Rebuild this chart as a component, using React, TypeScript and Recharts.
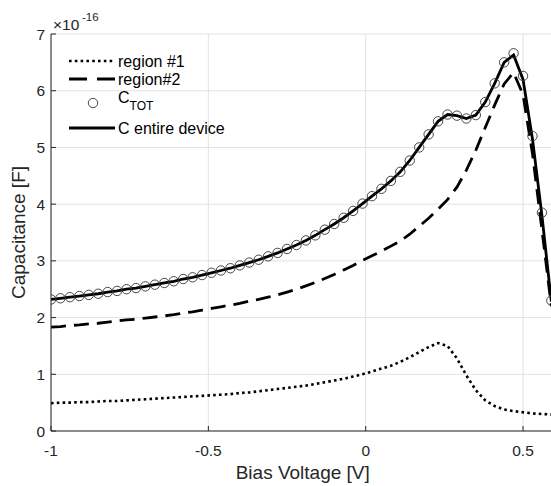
import React from 'react';
import { ComposedChart, Line, XAxis, YAxis, CartesianGrid, Legend } from 'recharts';

const voltage = [
  -1, -0.97, -0.94, -0.91, -0.88, -0.85, -0.82, -0.79, -0.76, -0.73,
  -0.7, -0.67, -0.64, -0.61, -0.58, -0.55, -0.52, -0.49, -0.46, -0.43,
  -0.4, -0.37, -0.34, -0.31, -0.28, -0.25, -0.22, -0.19, -0.16, -0.13,
  -0.1, -0.07, -0.04, -0.01, 0.02, 0.05, 0.08, 0.11, 0.14, 0.17,
  0.2, 0.23, 0.26, 0.29, 0.32, 0.35, 0.38, 0.41, 0.44, 0.47,
  0.5, 0.53, 0.56, 0.59,
];

const cTot = [
  2.32, 2.34, 2.36, 2.38, 2.40, 2.42, 2.45, 2.47, 2.50, 2.52,
  2.55, 2.58, 2.61, 2.64, 2.68, 2.71, 2.75, 2.79, 2.83, 2.87,
  2.92, 2.97, 3.02, 3.08, 3.14, 3.21, 3.28, 3.36, 3.45, 3.55,
  3.65, 3.76, 3.88, 4.01, 4.14, 4.27, 4.41, 4.57, 4.77, 5.00,
  5.23, 5.46, 5.58, 5.56, 5.51, 5.57, 5.80, 6.13, 6.50, 6.66,
  6.26, 5.20, 3.85, 2.30,
];

const cDevice = [
  2.32, 2.34, 2.36, 2.38, 2.40, 2.42, 2.45, 2.47, 2.50, 2.52,
  2.55, 2.58, 2.61, 2.64, 2.68, 2.71, 2.75, 2.79, 2.83, 2.87,
  2.92, 2.97, 3.02, 3.08, 3.14, 3.21, 3.28, 3.36, 3.45, 3.55,
  3.65, 3.76, 3.88, 4.01, 4.14, 4.27, 4.41, 4.57, 4.77, 5.00,
  5.23, 5.46, 5.58, 5.56, 5.51, 5.57, 5.80, 6.13, 6.50, 6.63,
  6.20, 5.15, 3.80, 2.28,
];

const region1 = [
  0.49, 0.50, 0.50, 0.51, 0.51, 0.52, 0.53, 0.53, 0.54, 0.55,
  0.56, 0.57, 0.58, 0.59, 0.60, 0.61, 0.62, 0.63, 0.64, 0.65,
  0.67, 0.68, 0.70, 0.72, 0.74, 0.76, 0.78, 0.80, 0.83, 0.86,
  0.89, 0.92, 0.96, 1.00, 1.05, 1.10, 1.15, 1.22, 1.30, 1.39,
  1.48, 1.55, 1.50, 1.28, 0.98, 0.72, 0.54, 0.44, 0.38, 0.35,
  0.33, 0.31, 0.30, 0.29,
];

const region2 = [
  1.83, 1.84, 1.86, 1.87, 1.89, 1.90, 1.92, 1.94, 1.96, 1.97,
  1.99, 2.01, 2.03, 2.05, 2.08, 2.10, 2.13, 2.16, 2.19, 2.22,
  2.25, 2.29, 2.32, 2.36, 2.40, 2.45, 2.50, 2.56, 2.62, 2.69,
  2.76, 2.84, 2.92, 3.01, 3.09, 3.17, 3.26, 3.35, 3.47, 3.61,
  3.75, 3.91, 4.08, 4.30, 4.60, 4.95, 5.35, 5.75, 6.12, 6.32,
  5.93, 4.89, 3.55, 2.20,
];

const xTicks = [-1, -0.5, 0, 0.5];
const yTicks = [0, 1, 2, 3, 4, 5, 6, 7];

const data = voltage.map((v, i) => ({
  v,
  ctot: cTot[i],
  dev: cDevice[i],
  r1: region1[i],
  r2: region2[i],
}));

const FONT = '"Liberation Sans", Arial, Helvetica, sans-serif';
const AXIS = '#262626';
const TICK_FS = 15.5;

function BottomTick(props: any) {
  const { x, y, payload } = props;
  return (
    <g>
      <line x1={x} x2={x} y1={y} y2={y - 5} stroke={AXIS} strokeWidth={1} />
      <text x={x} y={y + 25} textAnchor="middle" fontSize={TICK_FS} fill={AXIS} fontFamily={FONT}>
        {String(payload.value)}
      </text>
    </g>
  );
}

function TopTick(props: any) {
  const { x, y } = props;
  return <line x1={x} x2={x} y1={y} y2={y + 5} stroke={AXIS} strokeWidth={1} />;
}

function LeftTick(props: any) {
  const { x, y, payload } = props;
  return (
    <g>
      <line x1={x} x2={x + 5} y1={y} y2={y} stroke={AXIS} strokeWidth={1} />
      <text x={x - 6} y={y + 5.5} textAnchor="end" fontSize={TICK_FS} fill={AXIS} fontFamily={FONT}>
        {String(payload.value)}
      </text>
    </g>
  );
}

function RightTick(props: any) {
  const { x, y } = props;
  return <line x1={x} x2={x - 5} y1={y} y2={y} stroke={AXIS} strokeWidth={1} />;
}

function LegendContent() {
  const x0 = 69;
  const x1 = 115;
  const tx = 118;
  const fs = 16;
  return (
    <svg width={551} height={486} style={{ overflow: 'visible', pointerEvents: 'none' }}>
      <text x={53} y={30} fontSize={TICK_FS} fill={AXIS} fontFamily={FONT}>
        ×10
      </text>
      <text x={82} y={21} fontSize={11.5} fill={AXIS} fontFamily={FONT}>
        -16
      </text>
      <line x1={x0} x2={x1} y1={61} y2={61} stroke="#000" strokeWidth={2.6} strokeDasharray="2.6 3.2" />
      <text x={tx} y={66.5} fontSize={fs} fill="#000" fontFamily={FONT}>region #1</text>
      <line x1={x0} x2={x1} y1={79} y2={79} stroke="#000" strokeWidth={2.8} strokeDasharray="18 10" />
      <text x={tx} y={84.5} fontSize={fs} fill="#000" fontFamily={FONT}>region#2</text>
      <circle cx={93} cy={103} r={4.7} fill="none" stroke="#333" strokeWidth={0.9} />
      <text x={tx} y={103} fontSize={fs} fill="#000" fontFamily={FONT}>
        C
        <tspan fontSize={12} dy={7}>TOT</tspan>
      </text>
      <line x1={x0} x2={x1} y1={128} y2={128} stroke="#000" strokeWidth={2.8} />
      <text x={tx} y={133.5} fontSize={fs} fill="#000" fontFamily={FONT}>C entire device</text>
    </svg>
  );
}

export default function App() {
  return (
    <div style={{ position: 'absolute', left: 0, top: 0, width: 551, height: 486, overflow: 'hidden', background: '#fff' }}>
      <ComposedChart
        width={600}
        height={486}
        data={data}
        margin={{ top: 34, right: 45.5, bottom: 0, left: 0 }}
      >
        <CartesianGrid stroke="#e2e2e2" strokeWidth={1} />
        <XAxis
          dataKey="v"
          type="number"
          domain={[-1, 0.6]}
          ticks={xTicks}
          height={55}
          tickSize={0}
          tickMargin={0}
          tick={<BottomTick />}
          axisLine={{ stroke: AXIS, strokeWidth: 1 }}
          tickLine={false}
          interval={0}
          allowDataOverflow
          label={(p: any) => {
            const vb = p.viewBox;
            return (
              <text x={vb.x + vb.width / 2} y={vb.y + 48} textAnchor="middle" fontSize={19} fill={AXIS} fontFamily={FONT}>
                Bias Voltage [V]
              </text>
            );
          }}
        />
        <XAxis
          xAxisId="top"
          dataKey="v"
          type="number"
          orientation="top"
          domain={[-1, 0.6]}
          ticks={xTicks}
          height={0}
          tickSize={0}
          tickMargin={0}
          tick={<TopTick />}
          axisLine={{ stroke: AXIS, strokeWidth: 1 }}
          tickLine={false}
          interval={0}
          allowDataOverflow
        />
        <YAxis
          type="number"
          domain={[0, 7]}
          ticks={yTicks}
          width={51}
          tickSize={0}
          tickMargin={0}
          tick={<LeftTick />}
          axisLine={{ stroke: AXIS, strokeWidth: 1 }}
          tickLine={false}
          interval={0}
          allowDataOverflow
          label={(p: any) => {
            const vb = p.viewBox;
            const cy = vb.y + vb.height / 2;
            return (
              <text
                transform={`translate(18, ${cy}) rotate(-90)`}
                textAnchor="middle"
                dominantBaseline="central"
                fontSize={19}
                fill={AXIS}
                fontFamily={FONT}
              >
                Capacitance [F]
              </text>
            );
          }}
        />
        <YAxis
          yAxisId="right"
          type="number"
          orientation="right"
          domain={[0, 7]}
          ticks={yTicks}
          width={0}
          tickSize={0}
          tickMargin={0}
          tick={<RightTick />}
          axisLine={{ stroke: AXIS, strokeWidth: 1 }}
          tickLine={false}
          interval={0}
          allowDataOverflow
        />
        <Line
          dataKey="r1"
          type="linear"
          stroke="#000"
          strokeWidth={2.6}
          strokeDasharray="2.6 3.2"
          dot={false}
          isAnimationActive={false}
        />
        <Line
          dataKey="r2"
          type="linear"
          stroke="#000"
          strokeWidth={2.8}
          strokeDasharray="15 8"
          dot={false}
          isAnimationActive={false}
        />
        <Line
          dataKey="dev"
          type="linear"
          stroke="#000"
          strokeWidth={2.8}
          dot={false}
          isAnimationActive={false}
        />
        <Line
          dataKey="ctot"
          type="linear"
          stroke="none"
          dot={{ r: 4.7, fill: 'none', stroke: '#333', strokeWidth: 0.9 }}
          isAnimationActive={false}
        />
        <Line
          xAxisId="top"
          yAxisId="right"
          dataKey="ctot"
          stroke="none"
          dot={false}
          isAnimationActive={false}
          legendType="none"
        />
        <Legend
          layout="vertical"
          align="center"
          verticalAlign="middle"
          wrapperStyle={{ left: 0, top: 0, width: 551, height: 486, pointerEvents: 'none' }}
          content={() => <LegendContent />}
        />
      </ComposedChart>
    </div>
  );
}
